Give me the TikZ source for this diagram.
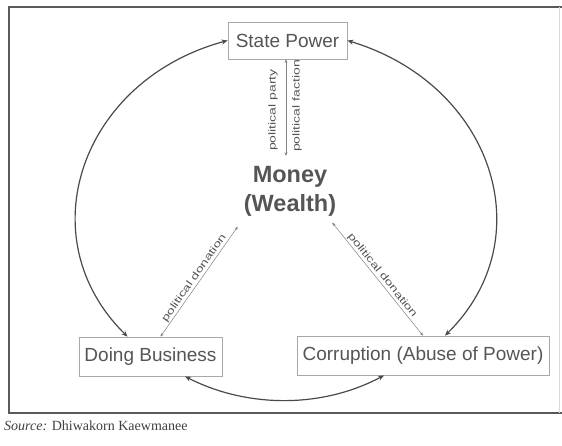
\documentclass[tikz,border=0pt]{standalone}
\usepackage{fontspec}
\setmainfont{Liberation Sans}
\newfontfamily\srcfont{Liberation Serif}
\newfontfamily\labfont[FakeStretch=1.4]{Liberation Sans}
\usetikzlibrary{arrows.meta}
\definecolor{txt}{HTML}{555555}
\definecolor{boxc}{HTML}{A8A8A8}
\definecolor{arcc}{HTML}{4A4A4A}
\definecolor{framec}{HTML}{5A5A5A}
\begin{document}
\begin{tikzpicture}[x=1pt,y=-1pt,
  box/.style={draw=boxc, line width=0.8pt, text=txt, font=\fontsize{19}{22}\selectfont, inner sep=0pt},
  cyc/.style={draw=arcc, line width=1.2pt, {Stealth[length=6pt,width=5pt]}-{Stealth[length=6pt,width=5pt]}},
  dona/.style={draw=gray, line width=0.5pt, {Stealth[length=3.5pt,width=3pt]}-{Stealth[length=3.5pt,width=3pt]}},
  lab/.style={text=txt, font=\labfont\fontsize{10}{12}\selectfont, inner sep=1pt}]
\useasboundingbox (0,0) rectangle (562,445);
\draw[line width=1.3pt, draw=framec] (562,7) -- (9,7) -- (9,413) -- (562,413);
\draw[line width=0.6pt, draw=black!15] (559,7) -- (559,413);
% nodes
\node[box, minimum width=119pt, minimum height=37pt] (sp) at (287.5,40.5) {State Power};
\node[box, minimum width=143pt, minimum height=39pt] (db) at (150.5,356.5) {Doing Business};
\node[box, minimum width=252pt, minimum height=39pt] (co) at (423,355.5) {Corruption (Abuse of Power)};
\node[text=txt, font=\bfseries\fontsize{23.5}{29}\selectfont, align=center, inner sep=0pt] (m) at (290,191) {Money\\(Wealth)};
% big cycle arcs
\draw[cyc] ([xshift=-23pt]db.north) .. controls (26.7,237.1) and (81,80.2) .. (sp.west);
\draw[cyc] (sp.east) .. controls (492.7,84.4) and (543.5,238.6) .. ([xshift=22pt]co.north);
\draw[cyc] ([xshift=-39pt]co.south) .. controls (321.8,408.6) and (246.8,408) .. ([xshift=34.5pt]db.south);
% relations with money
\draw[dona] ([xshift=-1.5pt]sp.south) -- ([xshift=-4pt,yshift=10pt]m.north);
\node[lab, rotate=90] (pp) at (273,110) {political party};
\node[lab, rotate=90] (pf) at (297,106) {political faction};
\draw[dona] ([xshift=10pt]db.north) -- node[lab, sloped, above] (ld) {political donation} ([xshift=-6pt,yshift=-10.5pt]m.south west);
\draw[dona] ([xshift=-4pt,yshift=-6.5pt]m.south east) -- node[lab, sloped, above] (rd) {political donation} (co.north);
% source
\node[anchor=west, font=\srcfont\fontsize{14}{16}\selectfont, text=black!75, inner sep=0pt] (src) at (4,426) {\textit{Source:} Dhiwakorn Kaewmanee};
\end{tikzpicture}
\end{document}
